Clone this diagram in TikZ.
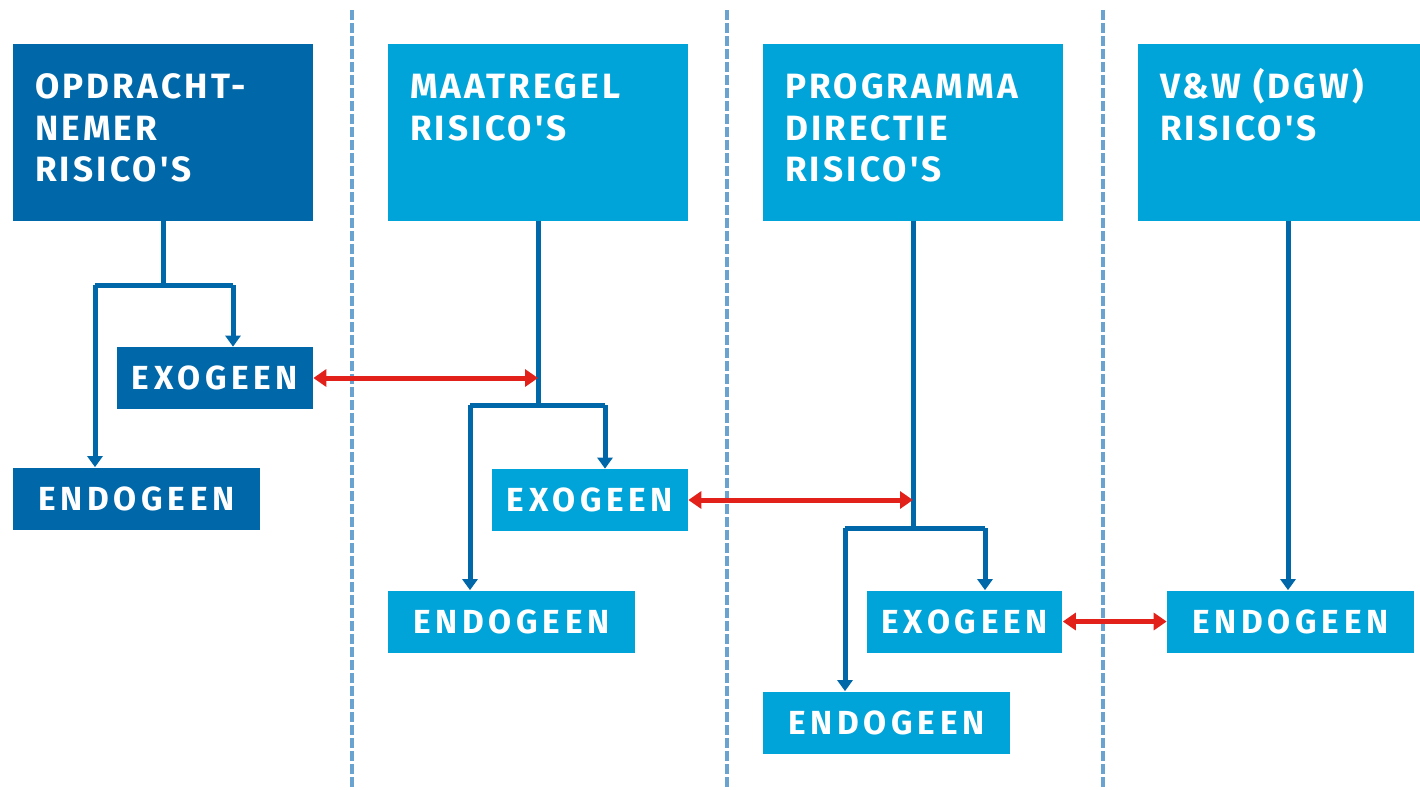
\documentclass[tikz,border=0pt]{standalone}
\usepackage{fontspec}
\newfontfamily\riskfont[LetterSpace=9]{Fira Sans}
\newfontfamily\leaffont[LetterSpace=14]{Fira Sans}
\usepackage{tikz}
\usetikzlibrary{calc,arrows.meta}
\definecolor{darkrisk}{HTML}{0068A9}
\definecolor{lightrisk}{HTML}{00A4D9}
\definecolor{linkred}{HTML}{E3211B}
\definecolor{sepblue}{HTML}{6AA3D0}

\begin{document}
\begin{tikzpicture}[x=0.02cm,y=-0.02cm,
  head/.style={minimum width=6cm,minimum height=3.54cm,inner sep=0pt},
  title/.style={anchor=north west,inner sep=0pt,align=left,text=white,
    font=\riskfont\bfseries\fontsize{20}{23.8}\selectfont},
  leaf/.style={minimum height=1.24cm,inner sep=0pt,text=white,
    font=\leaffont\bfseries\fontsize{19}{22}\selectfont},
  conn/.style={line width=0.1cm,darkrisk},
  tip/.style={-{Triangle[width=0.3cm,length=0.22cm]}},
  link/.style={line width=0.1cm,linkred,{Triangle[width=0.34cm,length=0.26cm]}-{Triangle[width=0.34cm,length=0.26cm]}},
  sep/.style={line width=0.07cm,sepblue,dash pattern=on 0.2cm off 0.06cm}]
\useasboundingbox (0,0) rectangle (1420,789);
\draw[sep] (352,10) -- (352,789);
\draw[sep] (727,10) -- (727,789);
\draw[sep] (1103,10) -- (1103,789);
% column heads
\node[head,fill=darkrisk] (b1) at (163,132.5) {};
\node[head,fill=lightrisk] (b2) at (538,132.5) {};
\node[head,fill=lightrisk] (b3) at (913,132.5) {};
\node[head,fill=lightrisk] (b4) at (1288,132.5) {};
\node[title] (t1) at ($(b1.north west)+(22,24)$) {\vphantom{(}OPDRACHT-\\NEMER\\RISICO'S};
\node[title] (t2) at ($(b2.north west)+(22,24)$) {\vphantom{(}MAATREGEL\\RISICO'S};
\node[title] (t3) at ($(b3.north west)+(22,24)$) {\vphantom{(}PROGRAMMA\\DIRECTIE\\RISICO'S};
\node[title] (t4) at ($(b4.north west)+(22,24)$) {\vphantom{(}V\&W (DGW)\\RISICO'S};
% exogeen / endogeen
\node[leaf,fill=darkrisk,minimum width=3.92cm] (exo1) at (215,378) {EXOGEEN};
\node[leaf,fill=darkrisk,minimum width=4.94cm] (endo1) at (136.5,498.5) {ENDOGEEN};
\node[leaf,fill=lightrisk,minimum width=3.92cm] (exo2) at (590,500) {EXOGEEN};
\node[leaf,fill=lightrisk,minimum width=4.94cm] (endo2) at (511.5,621.5) {ENDOGEEN};
\node[leaf,fill=lightrisk,minimum width=3.92cm] (exo3) at (964.5,621.5) {EXOGEEN};
\node[leaf,fill=lightrisk,minimum width=4.94cm] (endo3) at (886.5,722.5) {ENDOGEEN};
\node[leaf,fill=lightrisk,minimum width=4.94cm] (endo4) at (1290.5,621.5) {ENDOGEEN};
% branch points
\coordinate (l1) at (95,285);
\coordinate (r1) at (233,285);
\coordinate (l2) at (470,405);
\coordinate (r2) at (605,405);
\coordinate (l3) at (845,528);
\coordinate (r3) at (985,528);
\draw[conn] (b1.south) -- (b1.south |- l1);
\draw[conn] (l1) -- (r1);
\draw[conn,tip] (l1) -- (l1 |- endo1.north);
\draw[conn,tip] (r1) -- (r1 |- exo1.north);
\draw[conn] (b2.south) -- (b2.south |- l2);
\draw[conn] (l2) -- (r2);
\draw[conn,tip] (l2) -- (l2 |- endo2.north);
\draw[conn,tip] (r2) -- (r2 |- exo2.north);
\draw[conn] (b3.south) -- (b3.south |- l3);
\draw[conn] (l3) -- (r3);
\draw[conn,tip] (l3) -- (l3 |- endo3.north);
\draw[conn,tip] (r3) -- (r3 |- exo3.north);
\draw[conn,tip] (b4.south) -- (b4.south |- endo4.north);
% links
\draw[link] (exo1.east) -- (exo1.east -| b2.south);
\draw[link] (exo2.east) -- (exo2.east -| b3.south);
\draw[link] (exo3.east) -- (endo4.west);
\end{tikzpicture}
\end{document}
